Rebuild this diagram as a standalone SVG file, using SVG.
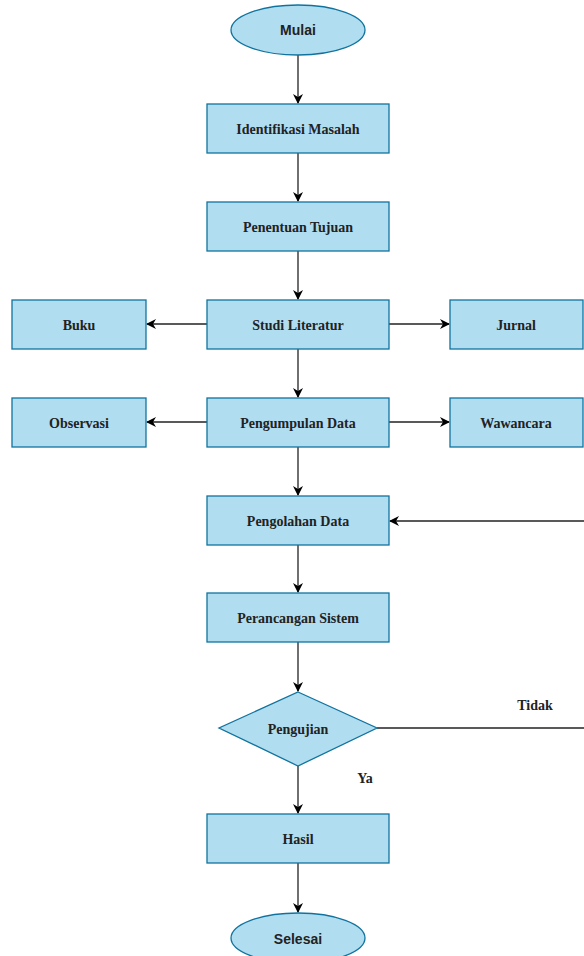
<svg xmlns="http://www.w3.org/2000/svg" width="584" height="956" viewBox="0 0 584 956">
<style>
.n{fill:#b1ddf0;stroke:#10739e;stroke-width:1.3}
.t{font-family:"Liberation Serif",serif;font-weight:bold;font-size:14px;fill:#222;text-anchor:middle;dominant-baseline:central}
.s{font-family:"Liberation Sans",sans-serif;font-weight:bold;font-size:14px;fill:#222;text-anchor:middle;dominant-baseline:central}
.c{fill:none;stroke:#222;stroke-width:1.3}
</style>
<defs>
<marker id="a" viewBox="0 0 10 10" refX="9" refY="5" markerWidth="10" markerHeight="10" markerUnits="userSpaceOnUse" orient="auto">
<path d="M0,0 L10,5 L0,10 L3,5 Z" fill="#000"/>
</marker>
</defs>
<rect width="584" height="956" fill="#fff"/>
<g id="connectors">
<path class="c" d="M298,55 V103" marker-end="url(#a)"/>
<path class="c" d="M298,153 V201" marker-end="url(#a)"/>
<path class="c" d="M298,251 V299" marker-end="url(#a)"/>
<path class="c" d="M298,349 V397" marker-end="url(#a)"/>
<path class="c" d="M298,447 V495" marker-end="url(#a)"/>
<path class="c" d="M298,545 V592" marker-end="url(#a)"/>
<path class="c" d="M298,642 V691" marker-end="url(#a)"/>
<path class="c" d="M298,766 V813" marker-end="url(#a)"/>
<path class="c" d="M298,863 V912" marker-end="url(#a)"/>
<path class="c" d="M207,324 H147" marker-end="url(#a)"/>
<path class="c" d="M389,324 H449" marker-end="url(#a)"/>
<path class="c" d="M207,422 H147" marker-end="url(#a)"/>
<path class="c" d="M389,422 H449" marker-end="url(#a)"/>
<path class="c" d="M377,728 H584"/>
<path class="c" d="M584,521 H390" marker-end="url(#a)"/>
<text class="t" x="535" y="705">Tidak</text>
<text class="t" x="365" y="778">Ya</text>
</g>
<g id="mulai"><ellipse class="n" cx="298" cy="30" rx="67" ry="25"/><text class="s" x="298" y="30">Mulai</text></g>
<g id="identifikasi"><rect class="n" x="207" y="104" width="182" height="49"/><text class="t" x="298" y="129">Identifikasi Masalah</text></g>
<g id="penentuan"><rect class="n" x="207" y="202" width="182" height="49"/><text class="t" x="298" y="227">Penentuan Tujuan</text></g>
<g id="studi"><rect class="n" x="207" y="300" width="182" height="49"/><text class="t" x="298" y="325">Studi Literatur</text></g>
<g id="buku"><rect class="n" x="12" y="300" width="134" height="49"/><text class="t" x="79" y="325">Buku</text></g>
<g id="jurnal"><rect class="n" x="450" y="300" width="133" height="49"/><text class="t" x="516" y="325">Jurnal</text></g>
<g id="pengumpulan"><rect class="n" x="207" y="398" width="182" height="49"/><text class="t" x="298" y="423">Pengumpulan Data</text></g>
<g id="observasi"><rect class="n" x="12" y="398" width="134" height="49"/><text class="t" x="79" y="423">Observasi</text></g>
<g id="wawancara"><rect class="n" x="450" y="398" width="133" height="49"/><text class="t" x="516" y="423">Wawancara</text></g>
<g id="pengolahan"><rect class="n" x="207" y="496" width="182" height="49"/><text class="t" x="298" y="521">Pengolahan Data</text></g>
<g id="perancangan"><rect class="n" x="207" y="593" width="182" height="49"/><text class="t" x="298" y="618">Perancangan Sistem</text></g>
<g id="pengujian"><polygon class="n" points="298,692 377,728 298,766 219,728"/><text class="t" x="298" y="729">Pengujian</text></g>
<g id="hasil"><rect class="n" x="207" y="814" width="182" height="49"/><text class="t" x="298" y="839">Hasil</text></g>
<g id="selesai"><ellipse class="n" cx="298" cy="938" rx="67" ry="25"/><text class="s" x="298" y="939">Selesai</text></g>
</svg>
